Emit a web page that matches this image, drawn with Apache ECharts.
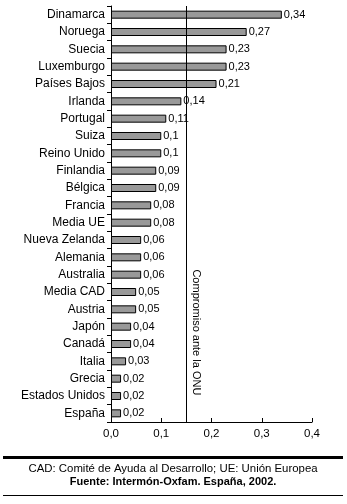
<!DOCTYPE html>
<html>
<head>
<meta charset="utf-8">
<script src="https://cdn.jsdelivr.net/npm/echarts@6/dist/echarts.min.js"></script>
<style>
html,body{margin:0;padding:0;background:#fff;}
#c{width:347px;height:504px;}
</style>
</head>
<body>
<div id="c"></div>
<script>
const categories = ["Dinamarca","Noruega","Suecia","Luxemburgo","Países Bajos","Irlanda","Portugal","Suiza","Reino Unido","Finlandia","Bélgica","Francia","Media UE","Nueva Zelanda","Alemania","Australia","Media CAD","Austria","Japón","Canadá","Italia","Grecia","Estados Unidos","España"];
const values = [0.34,0.27,0.23,0.23,0.21,0.14,0.11,0.1,0.1,0.09,0.09,0.08,0.08,0.06,0.06,0.06,0.05,0.05,0.04,0.04,0.03,0.02,0.02,0.02];
const xTicks = [0, 0.1, 0.2, 0.3, 0.4];
const onuTarget = 0.15;
const onuLabel = "Compromiso ante la ONU";
const footnote = "CAD: Comité de Ayuda al Desarrollo; UE: Unión Europea";
const source = "Fuente: Intermón-Oxfam. España, 2002.";

const FONT = "'Liberation Sans', Arial, sans-serif";
const comma = v => String(v).replace('.', ',');

const chart = echarts.init(document.getElementById('c'), null, {renderer:'canvas'});
const option = {
  animation:false,
  backgroundColor:'#fff',
  grid:{left:111, right:35, top:6, height:416, containLabel:false},
  xAxis:{
    type:'value', min:xTicks[0], max:xTicks[xTicks.length-1], interval:0.1,
    axisLine:{show:true, lineStyle:{color:'#000', width:1}},
    axisTick:{show:true, inside:true, length:4, lineStyle:{color:'#000'}},
    axisLabel:{color:'#000', fontFamily:FONT, fontSize:11.5, margin:6,
      formatter:v => v.toFixed(1).replace('.', ',')},
    splitLine:{show:false}
  },
  yAxis:{
    type:'category', data:categories, inverse:true,
    axisLine:{show:true, lineStyle:{color:'#000', width:1}},
    axisTick:{show:true, length:4, alignWithLabel:false, lineStyle:{color:'#000'}},
    axisLabel:{color:'#000', fontFamily:FONT, fontSize:12, margin:6}
  },
  series:[{
    type:'bar', data:values, barWidth:8,
    itemStyle:{color:'#999999', borderColor:'#000', borderWidth:1},
    label:{show:true, position:'right', distance:2, color:'#000', fontFamily:FONT, fontSize:11,
      formatter:p => comma(p.value)},
    markLine:{
      silent:true, symbol:'none', animation:false,
      lineStyle:{color:'#000', width:1, type:'solid'},
      label:{show:false},
      data:[{xAxis:onuTarget}]
    }
  }]
};
chart.setOption(option);

const px = chart.convertToPixel({xAxisIndex:0}, onuTarget);
const bottomY = chart.convertToPixel({yAxisIndex:0}, categories.length - 1);
chart.setOption({
  graphic:[
    {type:'text', x:px+10, y:bottomY-18, rotation:-Math.PI/2,
      style:{text:onuLabel, fill:'#000', font:'11px '+FONT, textAlign:'right', textVerticalAlign:'middle'}},
    {type:'rect', shape:{x:3, y:456, width:340, height:3}, style:{fill:'#000'}},
    {type:'text', x:173, y:469, style:{text:footnote, fill:'#000', font:'11.4px '+FONT, textAlign:'center', textVerticalAlign:'middle'}},
    {type:'text', x:173, y:482, style:{text:source, fill:'#000', font:'bold 11px '+FONT, textAlign:'center', textVerticalAlign:'middle'}},
    {type:'rect', shape:{x:3, y:495, width:340, height:1}, style:{fill:'#000'}}
  ]
});
</script>
</body>
</html>
